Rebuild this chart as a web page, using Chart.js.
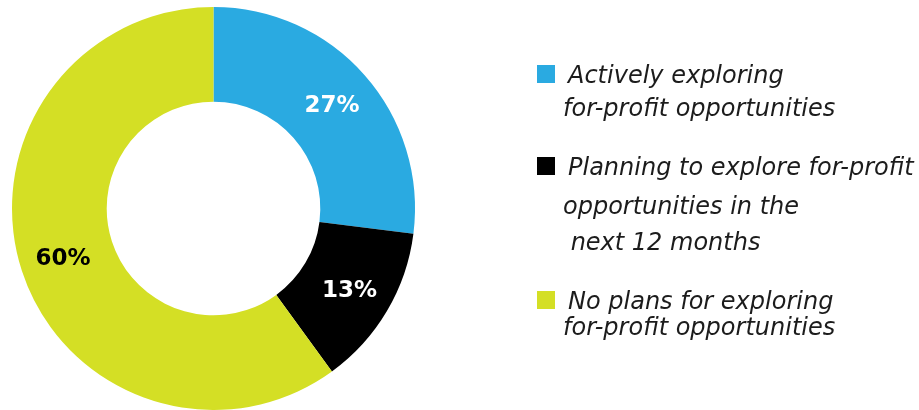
<!DOCTYPE html>
<html>
<head>
<meta charset="utf-8">
<script src="https://cdn.jsdelivr.net/npm/chart.js@4"></script>
<style>
  html, body { margin: 0; padding: 0; background: #ffffff; overflow: hidden; }
  #wrap { position: relative; width: 919px; height: 410px; }
</style>
</head>
<body>
<div id="wrap"><canvas id="chart"></canvas></div>
<script>
// Survey shares (percent)
const categories = [
  'Actively exploring for-profit opportunities',
  'Planning to explore for-profit opportunities in the next 12 months',
  'No plans for exploring for-profit opportunities'
];
const shares = [27, 13, 60];
const sliceColors = ['#2aaae1', '#000000', '#d4df25'];
const valueLabelColors = ['#ffffff', '#ffffff', '#000000'];
// Legend text, broken into lines as set
const legendLines = [
  ['Actively exploring', 'for-profit opportunities'],
  ['Planning to explore for-profit', 'opportunities in the', ' next 12 months'],
  ['No plans for exploring', 'for-profit opportunities']
];

// Percent labels inside each ring segment
const sliceLabels = {
  id: 'sliceLabels',
  afterDatasetsDraw(chart) {
    const { ctx } = chart;
    const meta = chart.getDatasetMeta(0);
    ctx.save();
    ctx.font = 'bold 23px "DejaVu Sans"';
    ctx.textAlign = 'center';
    ctx.textBaseline = 'middle';
    meta.data.forEach((arc, i) => {
      const { x, y, startAngle, endAngle, innerRadius, outerRadius } = arc.getProps(
        ['x', 'y', 'startAngle', 'endAngle', 'innerRadius', 'outerRadius'], true);
      const mid = (startAngle + endAngle) / 2;
      const r = (innerRadius + outerRadius) / 2 + 4;
      ctx.fillStyle = valueLabelColors[i];
      ctx.fillText(chart.data.datasets[0].data[i] + '%', x + Math.cos(mid) * r, y + Math.sin(mid) * r + 2);
    });
    ctx.restore();
  }
};

// Legend block on the right with square swatches and wrapped lines
const sideLegend = {
  id: 'sideLegend',
  afterDraw(chart, args, opts) {
    const { ctx } = chart;
    ctx.save();
    ctx.font = 'italic 24px "DejaVu Sans"';
    ctx.textBaseline = 'alphabetic';
    ctx.fillStyle = '#1c1c1c';
    legendLines.forEach((lines, i) => {
      const baselines = opts.baselines[i];
      ctx.save();
      ctx.fillStyle = chart.data.datasets[0].backgroundColor[i];
      ctx.fillRect(opts.boxX, baselines[0] - opts.box, opts.box, opts.box);
      ctx.restore();
      lines.forEach((line, j) => {
        ctx.fillText(line, j === 0 ? opts.firstX : opts.restX, baselines[j]);
      });
    });
    ctx.restore();
  }
};

const canvas = document.getElementById('chart');
canvas.width = 919;
canvas.height = 410;

new Chart(canvas, {
  type: 'doughnut',
  data: {
    labels: categories,
    datasets: [{
      data: shares,
      backgroundColor: sliceColors,
      borderWidth: 0,
      hoverOffset: 0
    }]
  },
  options: {
    responsive: false,
    animation: false,
    cutout: '53%',
    layout: { padding: { left: 12, right: 504, top: 7, bottom: 0 } },
    plugins: {
      legend: { display: false },
      tooltip: { enabled: false },
      sideLegend: {
        boxX: 537,
        box: 18,
        firstX: 568,
        restX: 563,
        baselines: [[83, 116], [175, 214, 250], [309, 335]]
      }
    }
  },
  plugins: [sliceLabels, sideLegend]
});
</script>
</body>
</html>
